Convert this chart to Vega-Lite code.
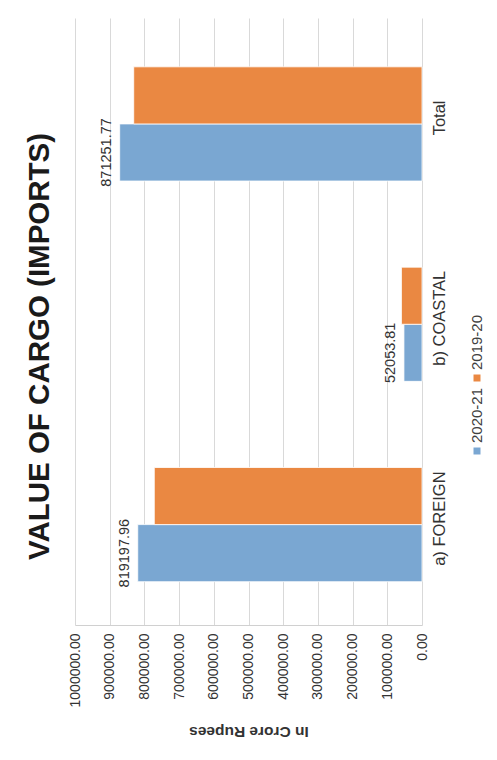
{
  "$schema": "https://vega.github.io/schema/vega-lite/v6.json",
  "background": "#ffffff",
  "padding": {"left": 24, "top": 18, "right": 0, "bottom": 20},
  "title": {
    "text": "VALUE OF CARGO (IMPORTS)",
    "orient": "left",
    "anchor": "middle",
    "font": "Liberation Sans",
    "fontSize": 29.5,
    "fontWeight": "bold",
    "color": "#1a1a1a",
    "offset": 13,
    "dx": 32
  },
  "datasets": {
    "cargo": [
      {"cat": "a) FOREIGN", "series": "2020-21", "value": 819197.96},
      {"cat": "a) FOREIGN", "series": "2019-20", "value": 771500},
      {"cat": "b) COASTAL", "series": "2020-21", "value": 52053.81},
      {"cat": "b) COASTAL", "series": "2019-20", "value": 59300},
      {"cat": "Total", "series": "2020-21", "value": 871251.77},
      {"cat": "Total", "series": "2019-20", "value": 830800}
    ],
    "legendItems": [
      {"series": "2019-20"},
      {"series": "2020-21"}
    ]
  },
  "spacing": 22,
  "hconcat": [
    {
      "width": 347,
      "height": 607,
      "data": {"name": "cargo"},
      "encoding": {
        "y": {
          "field": "cat",
          "type": "nominal",
          "sort": ["Total", "b) COASTAL", "a) FOREIGN"],
          "scale": {"paddingInner": 0.43, "paddingOuter": 0.23, "align": 0.53},
          "axis": {
            "orient": "right",
            "title": null,
            "labelAngle": 270,
            "labelAlign": "center",
            "labelBaseline": "top",
            "labelPadding": 9,
            "labelOffset": -6,
            "labelFontSize": 16.5,
            "labelColor": "#333333",
            "ticks": false,
            "domain": false,
            "grid": false
          }
        },
        "yOffset": {"field": "series", "type": "nominal", "sort": ["2019-20", "2020-21"]},
        "x": {
          "field": "value",
          "type": "quantitative",
          "scale": {"domain": [0, 1000000], "reverse": true, "nice": false},
          "axis": {
            "title": "In Crore Rupees",
            "format": ".2f",
            "values": [0, 100000, 200000, 300000, 400000, 500000, 600000, 700000, 800000, 900000, 1000000],
            "labelAngle": 270,
            "labelPadding": 8,
            "labelFontSize": 14,
            "labelColor": "#333333",
            "ticks": false,
            "grid": true,
            "gridColor": "#d9d9d9",
            "domainColor": "#d0d0d0",
            "titleAngle": 180,
            "titleFontSize": 15.5,
            "titleFontWeight": "bold",
            "titleColor": "#333333",
            "titleBaseline": "bottom",
            "titlePadding": 17
          }
        }
      },
      "layer": [
        {
          "mark": {"type": "bar", "stroke": "#ffffff", "strokeWidth": 0.8},
          "encoding": {
            "color": {
              "field": "series",
              "type": "nominal",
              "scale": {"domain": ["2020-21", "2019-20"], "range": ["#7aa7d2", "#ea8842"]},
              "legend": null
            }
          }
        },
        {
          "transform": [{"filter": "datum.series === '2020-21'"}],
          "mark": {"type": "text", "angle": 270, "align": "center", "baseline": "bottom", "dy": -6, "fontSize": 14.5, "color": "#333333"},
          "encoding": {
            "text": {"field": "value", "type": "quantitative", "format": ".2f"}
          }
        }
      ]
    },
    {
      "width": 12,
      "height": 607,
      "data": {"name": "legendItems"},
      "encoding": {
        "y": {
          "field": "series",
          "type": "nominal",
          "scale": {"type": "point", "domain": ["2019-20", "2020-21"], "range": [360, 433], "padding": 0},
          "axis": null
        }
      },
      "layer": [
        {
          "mark": {"type": "point", "shape": "square", "filled": true, "size": 49, "opacity": 1},
          "encoding": {
            "color": {"field": "series", "type": "nominal", "legend": null}
          }
        },
        {
          "mark": {"type": "text", "angle": 270, "align": "left", "baseline": "middle", "dx": 8, "fontSize": 15, "color": "#404040"},
          "encoding": {
            "text": {"field": "series", "type": "nominal"}
          }
        }
      ]
    }
  ],
  "config": {
    "font": "Liberation Sans",
    "view": {"stroke": null},
    "legend": {"disable": true},
    "axis": {"labelFont": "Liberation Sans", "titleFont": "Liberation Sans"}
  }
}
